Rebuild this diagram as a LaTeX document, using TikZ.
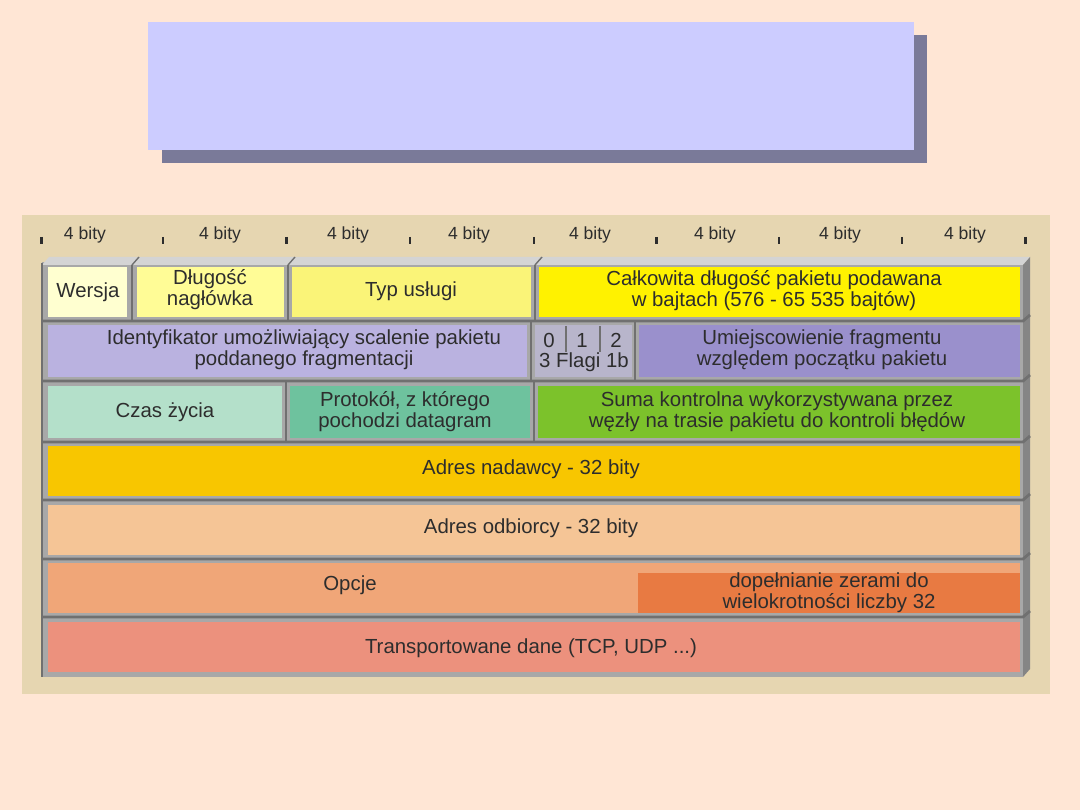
\documentclass[tikz,border=0pt]{standalone}
\usepackage{fontspec}
\setmainfont{Liberation Sans}
\usetikzlibrary{positioning}
\definecolor{cPage}{RGB}{255,230,213}
\definecolor{cPanel}{RGB}{230,214,177}
\definecolor{cTitle}{RGB}{204,204,255}
\definecolor{cShadow}{RGB}{122,122,153}
\definecolor{cFrame}{RGB}{168,168,168}
\definecolor{cFrameDark}{RGB}{112,112,112}
\definecolor{cFrameTop}{RGB}{212,212,212}
\definecolor{cFrameSide}{RGB}{133,133,133}
\definecolor{cText}{RGB}{45,45,45}
\definecolor{cVer}{RGB}{255,255,208}
\definecolor{cHlen}{RGB}{255,252,150}
\definecolor{cTos}{RGB}{250,244,120}
\definecolor{cTot}{RGB}{255,242,0}
\definecolor{cIdent}{RGB}{186,178,224}
\definecolor{cFlags}{RGB}{184,181,203}
\definecolor{cOff}{RGB}{154,144,204}
\definecolor{cTtl}{RGB}{180,224,202}
\definecolor{cProto}{RGB}{110,194,158}
\definecolor{cSum}{RGB}{124,194,43}
\definecolor{cSrc}{RGB}{248,198,0}
\definecolor{cDst}{RGB}{245,197,150}
\definecolor{cOpt}{RGB}{240,166,120}
\definecolor{cPad}{RGB}{232,122,66}
\definecolor{cData}{RGB}{236,145,125}
\tikzset{
	field/.style   ={align=center, text=cText, inner sep=0pt, font=\fontsize{14.5}{15}\selectfont},
	bitlabel/.style={text=cText, inner sep=0pt, font=\fontsize{12.5}{13}\selectfont},
	sepline/.style ={draw=cFrameDark, line width=2pt},
	tick/.style    ={draw=cText, line width=1.8pt},
}
\begin{document}
\begin{tikzpicture}[x=0.25mm, y=-0.25mm]
	\useasboundingbox (0,0) rectangle (1080,810);
	\fill[cPage] (0,0) rectangle (1080,810);
	% title box
	\fill[cShadow] (162,35) rectangle (927,163);
	\fill[cTitle] (148,22) rectangle (914,150);
	% panel
	\fill[cPanel] (22,215) rectangle (1050,694);
	\foreach \x in {41.5,163,286.5,410,534,656.5,779,902,1025.5}
		\draw[tick] (\x,237) -- (\x,244);
	\foreach \x [count=\i] in {85,220,348,469,590,715,840,965}
		\node[bitlabel] (bits\i) at (\x,235) {4 bity};
	% frame
	\fill[cFrame] (42,262) rectangle (1023,677);
	\fill[cFrameTop] (42,265) -- (49,257) -- (1030,257) -- (1023,265) -- cycle;
	\fill[cFrameSide] (1023,265) -- (1030,257) -- (1030,669) -- (1023,677) -- cycle;
	\draw[sepline] (42,263) -- (42,677);
	\foreach \x in {132,288,535}
		\draw[cFrameDark, line width=1pt] (\x,265) -- (\x+7,257);
	\foreach \y in {321,381,442,500,559,617}
		\draw[sepline] (42,\y) -- (1023,\y) -- (1030,\y-6);
	\draw[sepline] (132,265) -- (132,321);
	\draw[sepline] (288,265) -- (288,321);
	\draw[sepline] (535,265) -- (535,321);
	\draw[sepline] (531,321) -- (531,381);
	\draw[sepline] (635,321) -- (635,381);
	\draw[sepline] (286,381) -- (286,442);
	\draw[sepline] (534,381) -- (534,442);
	% fields
	\fill[cVer] (48,267) rectangle (127,317);
	\fill[cHlen] (137,267) rectangle (284,317);
	\fill[cTos] (292,267) rectangle (531,317);
	\fill[cTot] (539,267) rectangle (1020,317);
	\fill[cIdent] (48,325) rectangle (527,377);
	\fill[cFlags] (535,325) rectangle (632,377);
	\fill[cOff] (639,325) rectangle (1020,377);
	\fill[cTtl] (48,386) rectangle (282,438);
	\fill[cProto] (290,386) rectangle (530,438);
	\fill[cSum] (538,386) rectangle (1020,438);
	\fill[cSrc] (48,446) rectangle (1020,496);
	\fill[cDst] (48,505) rectangle (1020,555);
	\fill[cOpt] (48,563) rectangle (1020,613);
	\fill[cPad] (638,573) rectangle (1020,613);
	\fill[cData] (48,622) rectangle (1020,672);
	\draw[cFrameDark, line width=1pt] (566,326) -- (566,352);
	\draw[cFrameDark, line width=1pt] (600,326) -- (600,352);
	% labels
	\node[field] (ver) at (88,292) {Wersja};
	\node[field] (hlen) at (210,290) {Długość\\nagłówka};
	\node[field] (tos) at (411,291) {Typ usługi};
	\node[field] (tot) at (774,291) {Całkowita długość pakietu podawana\\w bajtach (576 - 65 535 bajtów)};
	\node[field] (ident) at (304,350) {Identyfikator umożliwiający scalenie pakietu\\poddanego fragmentacji};
	\node[field] (flag0) at (549,340) {0};
	\node[field] (flag1) at (582,340) {1};
	\node[field] (flag2) at (616,340) {2};
	\node[field] (flags) at (584,362) {3 Flagi 1b};
	\node[field] (off) at (822,350) {Umiejscowienie fragmentu\\względem początku pakietu};
	\node[field] (ttl) at (165,412) {Czas życia};
	\node[field] (proto) at (405,412) {Protokół, z którego\\pochodzi datagram};
	\node[field] (sum) at (777,412) {Suma kontrolna wykorzystywana przez\\węzły na trasie pakietu do kontroli błędów};
	\node[field] (src) at (531,469) {Adres nadawcy - 32 bity};
	\node[field] (dst) at (531,528) {Adres odbiorcy - 32 bity};
	\node[field] (opt) at (350,585) {Opcje};
	\node[field] (pad) at (829,593) {dopełnianie zerami do\\wielokrotności liczby 32};
	\node[field] (data) at (531,648) {Transportowane dane (TCP, UDP ...)};
\end{tikzpicture}
\end{document}
